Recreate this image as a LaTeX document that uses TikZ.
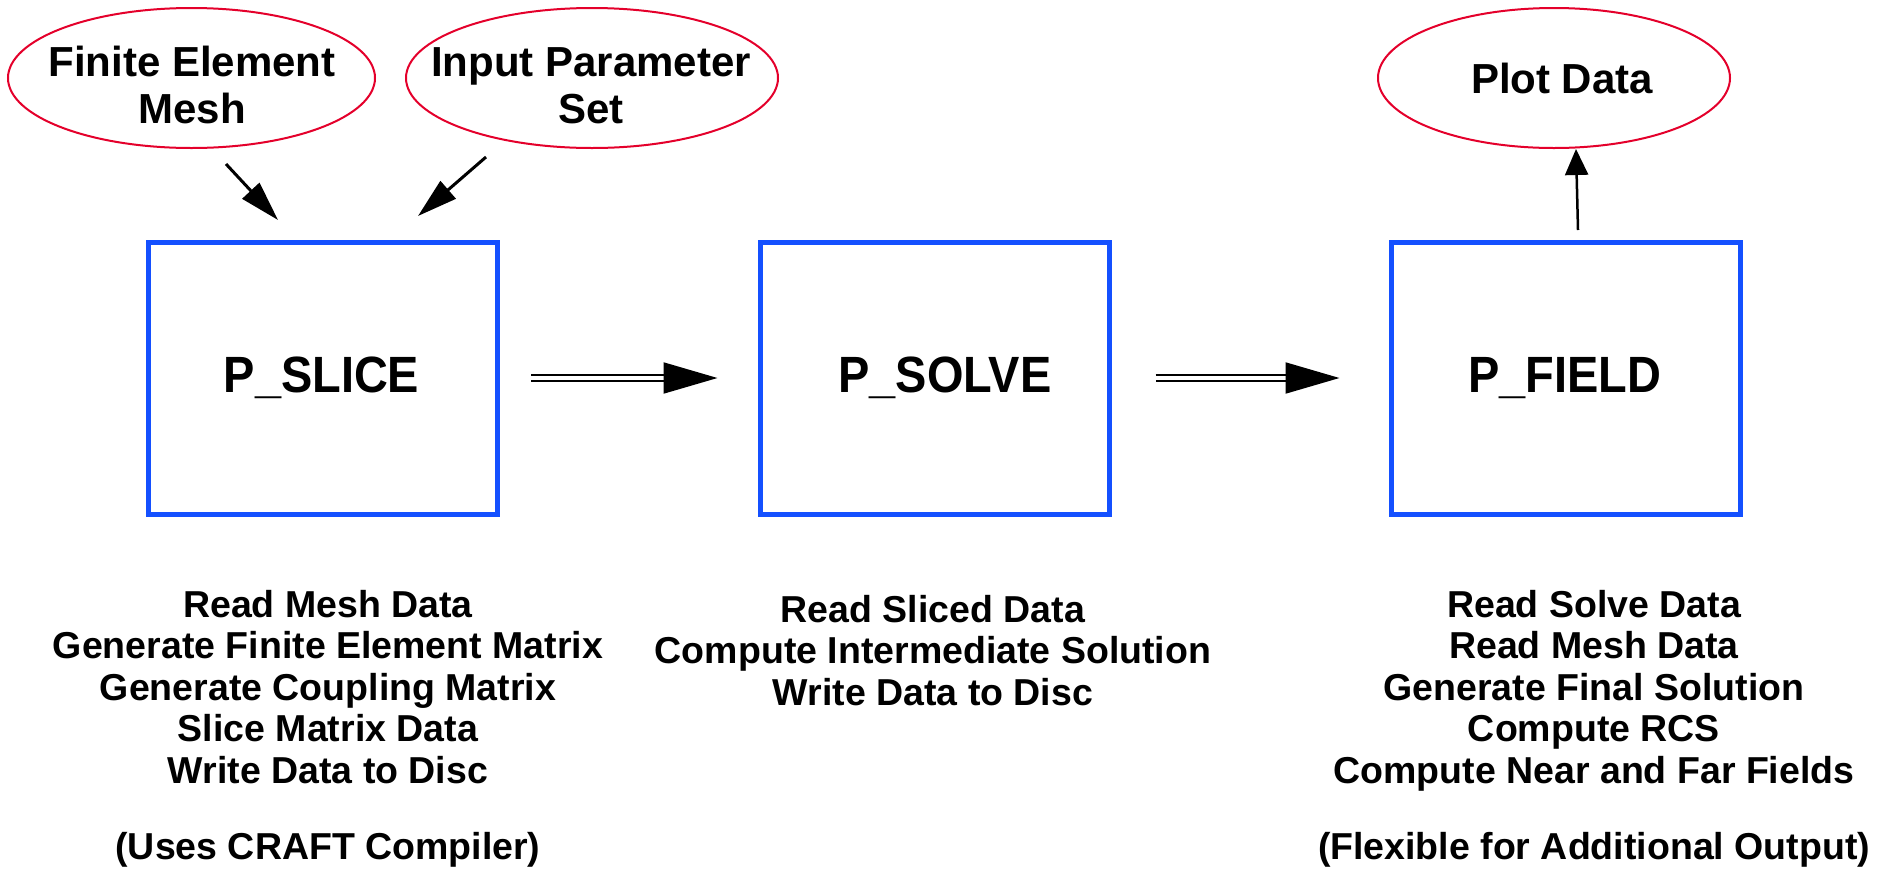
\documentclass[tikz,border=0pt]{standalone}
\usepackage{fontspec}
\setmainfont{Liberation Sans}
\newfontfamily\titlefont[FakeStretch=0.92]{Liberation Sans}
\usetikzlibrary{arrows.meta,shapes.geometric}
\definecolor{ellred}{RGB}{228,0,43}
\definecolor{boxblue}{RGB}{20,80,255}
\begin{document}
\begin{tikzpicture}[x=1pt,y=1pt,
 ell/.style={draw=ellred, line width=2pt, ellipse, inner sep=0pt},
 elltext/.style={font=\fontsize{42}{47}\selectfont\bfseries, align=center, inner sep=0pt},
 proc/.style={draw=boxblue, line width=5pt, rectangle, minimum width=349pt, minimum height=272pt},
 proclabel/.style={font=\titlefont\fontsize{51}{58}\selectfont\bfseries, inner sep=0pt},
 desc/.style={font=\fontsize{37.5}{41.5}\selectfont\bfseries, align=center, inner sep=0pt},
 thinarrow/.style={line width=3pt, -{Triangle[length=40pt,width=23pt]}},
 shortarrow/.style={line width=2.5pt, -{Triangle[length=26pt,width=23pt]}},
 dblarrow/.style={double, double distance=3.5pt, line width=2pt, -{Triangle[length=54pt,width=31pt]}}]
\useasboundingbox (0,0) rectangle (1885,-871);
% ellipses
\node[ell, minimum width=367pt, minimum height=140pt] (fem) at (191.5,-78) {};
\node[elltext] (femtext) at (192,-85) {Finite Element\\Mesh};
\node[ell, minimum width=372pt, minimum height=140pt] (ips) at (592,-78) {};
\node[elltext] (ipstext) at (591,-85.5) {Input Parameter\\Set};
\node[ell, minimum width=352pt, minimum height=140pt] (plot) at (1554,-78) {};
\node[elltext, anchor=base] (plottext) at (1562,-93) {Plot Data};
% boxes
\node[proc] (slice) at (323,-378.5) {};
\node[proclabel, anchor=base] (slicetext) at (321.5,-392) {P\_SLICE};
\node[proc] (solve) at (934.5,-378.5) {};
\node[proclabel, anchor=base] (solvetext) at (945,-392) {P\_SOLVE};
\node[proc] (field) at (1565.5,-378.5) {};
\node[proclabel, anchor=base] (fieldtext) at (1565,-392) {P\_FIELD};
% descriptions
\node[desc] (d1) at (328,-728.5) {Read Mesh Data\\Generate Finite Element Matrix\\Generate Coupling Matrix\\Slice Matrix Data\\Write Data to Disc\\[34.5pt](Uses CRAFT Compiler)};
\node[desc] (d2) at (933,-650.5) {Read Sliced Data\\Compute Intermediate Solution\\Write Data to Disc};
\node[desc] (d3) at (1594,-728.5) {Read Solve Data\\Read Mesh Data\\Generate Final Solution\\Compute RCS\\Compute Near and Far Fields\\[34.5pt](Flexible for Additional Output)};
% connector end points
\coordinate (a1s) at (226,-164);
\coordinate (a1e) at (278,-220);
\coordinate (a2s) at (486,-157);
\coordinate (a2e) at (418,-216);
\coordinate (a3s) at (1578,-230);
\coordinate (a3e) at (1576,-149);
\draw[thinarrow] (a1s) -- (a1e);
\draw[thinarrow] (a2s) -- (a2e);
\draw[shortarrow] (a3s) -- (a3e);
\draw[dblarrow, shorten <=31pt, shorten >=40pt] (slice.east |- 0,-378) -- (solve.west |- 0,-378);
\draw[dblarrow, shorten <=44pt, shorten >=49pt] (solve.east |- 0,-378) -- (field.west |- 0,-378);
\end{tikzpicture}
\end{document}
